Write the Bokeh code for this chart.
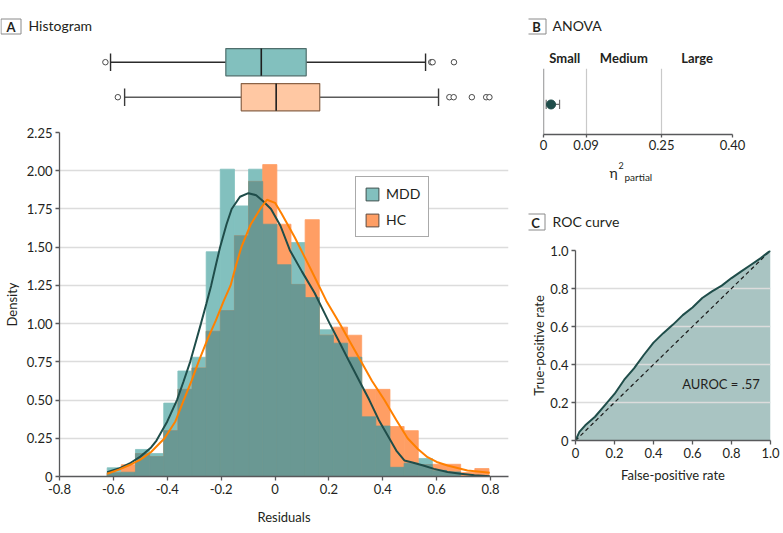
import numpy as np
from bokeh.plotting import figure
from bokeh.models import Range1d, FixedTicker, Label, Legend, LegendItem, Span
from bokeh.layouts import row, column
from bokeh.embed import file_html
from bokeh.resources import INLINE

# ---------------- data ----------------
groups = ["MDD", "HC"]

bin_edges = [-0.623, -0.5705, -0.518, -0.4656, -0.4131, -0.3606, -0.3081, -0.2556,
             -0.2032, -0.1507, -0.0982, -0.0457, 0.0068, 0.0592, 0.1117, 0.1642,
             0.2167, 0.2692, 0.3216, 0.3741, 0.4266, 0.4791, 0.5316, 0.5840,
             0.6365, 0.6890, 0.7415, 0.7940]
mdd_density = [0.057, 0.028, 0.177, 0.15, 0.48, 0.69, 0.78, 1.47, 2.01, 1.77, 2.01,
               1.65, 1.385, 1.53, 1.17, 0.96, 0.872, 0.78, 0.39, 0.33, 0.06, 0.087,
               0.118, 0.04, 0.03, 0.0, 0.0]
hc_density = [0.025, 0.077, 0.15, 0.13, 0.30, 0.57, 0.71, 0.95, 1.085, 1.575, 1.93,
              2.04, 1.65, 1.256, 1.68, 0.924, 0.977, 0.924, 0.57, 0.57, 0.327, 0.30,
              0.078, 0.08, 0.08, 0.026, 0.052]

mdd_kde_x = [-0.623, -0.58, -0.54, -0.50, -0.46, -0.44, -0.40, -0.364, -0.34, -0.315,
             -0.295, -0.275, -0.255, -0.237, -0.22, -0.204, -0.18, -0.161, -0.13, -0.099,
             -0.07, -0.044, -0.015, 0.02, 0.055, 0.10, 0.147, 0.175, 0.203, 0.24, 0.276,
             0.313, 0.35, 0.385, 0.424, 0.45, 0.48, 0.51, 0.55, 0.59, 0.64, 0.689, 0.74, 0.797]
mdd_kde_y = [0.028, 0.052, 0.085, 0.13, 0.19, 0.235, 0.36, 0.50, 0.62, 0.75,
             0.875, 1.0, 1.13, 1.25, 1.38, 1.50, 1.65, 1.75, 1.83, 1.853,
             1.84, 1.80, 1.75, 1.64, 1.48, 1.34, 1.2, 1.10, 1.0, 0.875, 0.75,
             0.625, 0.5, 0.37, 0.25, 0.17, 0.105, 0.092, 0.072, 0.05, 0.03, 0.018, 0.008, 0.002]
hc_kde_x = [-0.623, -0.58, -0.54, -0.50, -0.46, -0.41, -0.37, -0.339, -0.31, -0.284,
            -0.25, -0.22, -0.19, -0.165, -0.145, -0.125, -0.09, -0.055, -0.03, 0.0,
            0.024, 0.073, 0.135, 0.19, 0.24, 0.28, 0.32, 0.36, 0.406, 0.45, 0.492,
            0.53, 0.566, 0.60, 0.64, 0.714, 0.797]
hc_kde_y = [0.018, 0.045, 0.075, 0.11, 0.16, 0.25, 0.36, 0.5, 0.625, 0.75,
            0.9, 1.02, 1.15, 1.25, 1.38, 1.5, 1.65, 1.75, 1.81, 1.79,
            1.72, 1.565, 1.347, 1.15, 1.0, 0.875, 0.75, 0.625, 0.5, 0.37, 0.25,
            0.18, 0.126, 0.095, 0.072, 0.039, 0.024]

# box plot statistics (MDD, HC)
box_row = [1, 0]
q1 = [-0.178, -0.121]
median = [-0.047, 0.008]
q3 = [0.119, 0.169]
whisk_lo = [-0.604, -0.552]
whisk_hi = [0.560, 0.608]
mdd_outliers = [-0.623, 0.581, 0.586, 0.665]
hc_outliers = [-0.577, 0.648, 0.664, 0.731, 0.784, 0.796]

hist_xticks = [-0.8, -0.6, -0.4, -0.2, 0.0, 0.2, 0.4, 0.6, 0.8]
hist_xlabels = ["-0.8", "-0.6", "-0.4", "-0.2", "0", "0.2", "0.4", "0.6", "0.8"]
hist_yticks = [0, 0.25, 0.5, 0.75, 1.0, 1.25, 1.5, 1.75, 2.0, 2.25]
hist_ylabels = ["0", "0.25", "0.50", "0.75", "1.00", "1.25", "1.50", "1.75", "2.00", "2.25"]

# ANOVA
effect_thresholds = [0, 0.09, 0.25, 0.40]
effect_tick_labels = ["0", "0.09", "0.25", "0.40"]
effect_names = ["Small", "Medium", "Large"]
eta_est = [0.016]
eta_lo = [0.0057]
eta_hi = [0.034]

# ROC
fpr = [0, 0.02, 0.05, 0.10, 0.15, 0.20, 0.25, 0.30, 0.35, 0.40, 0.45, 0.50, 0.55,
       0.60, 0.65, 0.70, 0.75, 0.80, 0.85, 0.90, 0.95, 1.0]
tpr = [0, 0.045, 0.08, 0.125, 0.185, 0.245, 0.32, 0.38, 0.45, 0.515, 0.565, 0.61,
       0.66, 0.70, 0.75, 0.785, 0.815, 0.855, 0.89, 0.925, 0.96, 1.0]
roc_ticks = [0, 0.2, 0.4, 0.6, 0.8, 1.0]
roc_labels = ["0", "0.2", "0.4", "0.6", "0.8", "1.0"]
auroc_text = "AUROC = .57"

# ---------------- style ----------------
FONT = "Lato"
TXT = "#231f20"
AX = "#58595b"
TEAL = "#82c0be"
ORANGE = "#ff9e64"
OVERLAP = "#6a9893"
MDD_LINE = "#1f4d4a"
HC_LINE = "#ff8000"
GRID = "#dcdcdc"
BOXLINE = "#8a8a8a"
common = dict(output_backend="svg", toolbar_location=None, title=None, frame_align=False)


def style_axis(ax, tick_out=4, lab_stand=3, title_stand=8):
    ax.axis_line_color = AX
    ax.axis_line_width = 1.3
    ax.major_tick_line_color = AX
    ax.major_tick_line_width = 1.3
    ax.major_tick_out = tick_out
    ax.major_tick_in = 0
    ax.minor_tick_line_color = None
    ax.major_label_text_font = FONT
    ax.major_label_text_font_size = "13px"
    ax.major_label_text_color = TXT
    ax.major_label_standoff = lab_stand
    ax.axis_label_text_font = FONT
    ax.axis_label_text_font_size = "13px"
    ax.axis_label_text_font_style = "normal"
    ax.axis_label_text_color = TXT
    ax.axis_label_standoff = title_stand


def text_fig(width, height, xr, yr):
    # a text-only strip; its ranges are page pixel coordinates (y downwards)
    f = figure(width=width, height=height, x_range=Range1d(*xr), y_range=Range1d(*yr),
               x_axis_type=None, y_axis_type=None, min_border=0, **common)
    f.outline_line_color = None
    return f


def add_label(p, x, y, text, size="13px", style="normal", align="left"):
    p.add_layout(Label(x=x, y=y, text=text, text_font=FONT, text_font_size=size,
                       text_font_style=style, text_align=align, text_baseline="middle",
                       text_color=TXT))


def letter_box(p, left, right, top, bottom, letter):
    p.quad(left=[left], right=[right], top=[top], bottom=[bottom],
           fill_color="white", line_color=BOXLINE, line_width=1)
    add_label(p, (left + right) / 2, (top + bottom) / 2 + 0.5, letter, style="bold", align="center")


X_RANGE = (-0.8, 0.8665)
shared_x = Range1d(*X_RANGE)

# ---------------- panel A header ----------------
hdr_a = text_fig(528, 40, (0, 528), (40, 0))
letter_box(hdr_a, 0.5, 20.5, 18.5, 33.5, "A")
add_label(hdr_a, 28, 24.5, "Histogram", size="14px")

# ---------------- panel A: box plots ----------------
BOX_Y = (-0.609, 1.62)
p_box = figure(width=528, height=78, x_range=shared_x, y_range=BOX_Y,
               x_axis_type=None, y_axis_type=None,
               min_border_left=57, min_border_right=20, min_border_top=0, min_border_bottom=0,
               **common)
p_box.outline_line_color = None

yb = np.array(box_row, dtype=float)
half = 0.39
p_box.segment(x0=whisk_lo, x1=q1, y0=yb, y1=yb, line_color=["#2b2b2b", "#5a5a5a"], line_width=1.4)
p_box.segment(x0=q3, x1=whisk_hi, y0=yb, y1=yb, line_color=["#2b2b2b", "#5a5a5a"], line_width=1.4)
p_box.segment(x0=whisk_lo, x1=whisk_lo, y0=yb - 0.25, y1=yb + 0.25, line_color=["#2b2b2b", "#3a3a3a"], line_width=1.4)
p_box.segment(x0=whisk_hi, x1=whisk_hi, y0=yb - 0.25, y1=yb + 0.25, line_color=["#2b2b2b", "#3a3a3a"], line_width=1.4)
p_box.quad(left=q1, right=q3, bottom=yb - half, top=yb + half,
           fill_color=[TEAL, "#ffc8a3"], line_color=["#4f6e6c", "#8a6347"], line_width=1.2)
p_box.segment(x0=median, x1=median, y0=yb - half, y1=yb + half, line_color="#1e1e1e", line_width=1.6)
p_box.scatter(x=mdd_outliers, y=[box_row[0]] * len(mdd_outliers), size=5.5, marker="circle",
              fill_color="white", line_color="#4a4a4a", line_width=1)
p_box.scatter(x=hc_outliers, y=[box_row[1]] * len(hc_outliers), size=5.5, marker="circle",
              fill_color="white", line_color="#4a4a4a", line_width=1)

# ---------------- panel A: histogram ----------------
HIST_Y = (0, 2.25)
p_hist = figure(width=528, height=415, x_range=shared_x, y_range=HIST_Y,
                min_border_left=57, min_border_right=20, min_border_top=14, min_border_bottom=57,
                **common)
p_hist.outline_line_color = None
p_hist.xgrid.visible = False
p_hist.ygrid.ticker = FixedTicker(ticks=hist_yticks)
p_hist.ygrid.grid_line_color = GRID
p_hist.ygrid.grid_line_width = 1.6

edges = np.array(bin_edges)
mdd = np.array(mdd_density)
hc = np.array(hc_density)
p_hist.quad(left=edges[:-1], right=edges[1:], bottom=0, top=mdd, fill_color=TEAL,
            line_color=TEAL, line_width=0.8)
p_hist.quad(left=edges[:-1], right=edges[1:], bottom=0, top=hc, fill_color=ORANGE,
            line_color=ORANGE, line_width=0.8)
p_hist.quad(left=edges[:-1], right=edges[1:], bottom=0, top=np.minimum(mdd, hc),
            fill_color=OVERLAP, line_color=OVERLAP, line_width=0.8)
p_hist.line(mdd_kde_x, mdd_kde_y, line_color=MDD_LINE, line_width=2)
p_hist.line(hc_kde_x, hc_kde_y, line_color=HC_LINE, line_width=2)

leg_mdd = p_hist.quad(left=edges[:-1], right=edges[1:], bottom=0, top=mdd, fill_color=TEAL,
                      line_color="#3f4f4e", line_width=1, visible=False)
leg_hc = p_hist.quad(left=edges[:-1], right=edges[1:], bottom=0, top=hc, fill_color=ORANGE,
                     line_color="#5a4a40", line_width=1, visible=False)
legend = Legend(items=[LegendItem(label=groups[0], renderers=[leg_mdd]),
                       LegendItem(label=groups[1], renderers=[leg_hc])],
                location=(296, 239), glyph_width=16, glyph_height=16, label_height=16,
                label_standoff=6, spacing=9, padding=8, margin=0,
                label_text_font=FONT, label_text_font_size="14px", label_text_color=TXT,
                border_line_color="#555555", border_line_width=1, background_fill_alpha=1)
p_hist.add_layout(legend)

for ax in p_hist.xaxis:
    style_axis(ax, tick_out=4, lab_stand=3, title_stand=12)
    ax.ticker = FixedTicker(ticks=hist_xticks)
    ax.major_label_overrides = dict(zip(hist_xticks, hist_xlabels))
    ax.axis_label = "Residuals"
for ax in p_hist.yaxis:
    style_axis(ax, tick_out=4, lab_stand=3, title_stand=4)
    ax.ticker = FixedTicker(ticks=hist_yticks)
    ax.major_label_overrides = dict(zip(hist_yticks, hist_ylabels))
    ax.axis_label = "Density"

# ---------------- panel B: ANOVA ----------------
B_X = (0, 0.40)
B_Y = (0, 1)
B_LEFT, B_RIGHT = 543, 732                          # frame edges, page pixels
B_SCALE = (B_RIGHT - B_LEFT) / (B_X[1] - B_X[0])    # pixels per unit of eta^2

hdr_b = text_fig(255, 67, (528, 783), (67, 0))
letter_box(hdr_b, 526.5, 545.5, 18.5, 33.5, "B")
add_label(hdr_b, 552, 24.5, "ANOVA", size="14px")
for i, name in enumerate(effect_names):
    cx = (effect_thresholds[i] + effect_thresholds[i + 1]) / 2
    add_label(hdr_b, B_LEFT + (cx - B_X[0]) * B_SCALE, 57.5, name, style="bold", align="center")

p_b = figure(width=255, height=93, x_range=B_X, y_range=B_Y, y_axis_type=None,
             min_border_left=B_LEFT - 528, min_border_right=783 - B_RIGHT,
             min_border_top=1, min_border_bottom=26, **common)
p_b.outline_line_color = None
p_b.xgrid.ticker = FixedTicker(ticks=effect_thresholds[1:])
p_b.xgrid.grid_line_color = "#c9c9c9"
p_b.xgrid.grid_line_width = 1.2
p_b.ygrid.visible = False
p_b.add_layout(Span(location=0, dimension="height", line_color=AX, line_width=1.3))
for ax in p_b.xaxis:
    style_axis(ax, tick_out=3, lab_stand=2)
    ax.ticker = FixedTicker(ticks=effect_thresholds)
    ax.major_label_overrides = dict(zip(effect_thresholds, effect_tick_labels))

ROW_Y = 0.455
p_b.segment(x0=eta_lo, x1=eta_hi, y0=[ROW_Y], y1=[ROW_Y], line_color="#6d6d6d", line_width=1.2)
p_b.segment(x0=eta_lo, x1=eta_lo, y0=[ROW_Y - 0.07], y1=[ROW_Y + 0.07], line_color="#6d6d6d", line_width=1.2)
p_b.segment(x0=eta_hi, x1=eta_hi, y0=[ROW_Y - 0.07], y1=[ROW_Y + 0.07], line_color="#6d6d6d", line_width=1.2)
p_b.scatter(x=eta_est, y=[ROW_Y], size=9, marker="circle", fill_color=MDD_LINE, line_color=MDD_LINE)

# text band between panels B and C (eta label + C header), page coordinates
mid_bc = text_fig(255, 75, (528, 783), (235, 160))
add_label(mid_bc, 613, 172, "\u03b7", size="14px", align="center")
add_label(mid_bc, 618, 165, "2", size="9px")
add_label(mid_bc, 624, 176.5, "partial", size="10px")
letter_box(mid_bc, 525.5, 544.5, 213.5, 229.5, "C")
add_label(mid_bc, 552, 220.5, "ROC curve", size="14px")

# ---------------- panel C: ROC ----------------
C_X = (0, 1)
C_Y = (0, 1)
p_c = figure(width=255, height=298, x_range=C_X, y_range=C_Y,
             min_border_left=45, min_border_right=13, min_border_top=15, min_border_bottom=93,
             **common)
p_c.outline_line_color = None
p_c.xgrid.visible = False
p_c.ygrid.ticker = FixedTicker(ticks=roc_ticks[1:])
p_c.ygrid.grid_line_color = GRID
p_c.ygrid.grid_line_width = 1.6
p_c.ygrid.level = "underlay"

p_c.varea(x=fpr, y1=[0] * len(fpr), y2=tpr, fill_color="#a9c4c2", level="underlay")
p_c.line(x=[roc_ticks[0], roc_ticks[-1]], y=[roc_ticks[0], roc_ticks[-1]],
         line_color="#1a1a1a", line_dash="4 3", line_width=1.2)
p_c.line(x=fpr, y=tpr, line_color=MDD_LINE, line_width=2)

for ax in p_c.xaxis:
    style_axis(ax, tick_out=4, lab_stand=3, title_stand=6)
    ax.ticker = FixedTicker(ticks=roc_ticks)
    ax.major_label_overrides = dict(zip(roc_ticks, roc_labels))
    ax.axis_label = "False-positive rate"
for ax in p_c.yaxis:
    style_axis(ax, tick_out=4, lab_stand=3, title_stand=0)
    ax.ticker = FixedTicker(ticks=roc_ticks)
    ax.major_label_overrides = dict(zip(roc_ticks, roc_labels))
    ax.axis_label = "True-positive rate"

add_label(p_c, C_X[0] + (720 - 573) / 197 * (C_X[1] - C_X[0]),
          C_Y[0] + (440 - 383.5) / 190 * (C_Y[1] - C_Y[0]), auroc_text, align="center")

# ---------------- layout ----------------
layout = row(column(hdr_a, p_box, p_hist, spacing=0),
             column(hdr_b, p_b, mid_bc, p_c, spacing=0), spacing=0)

open("out.html", "w").write(file_html(layout, INLINE))
